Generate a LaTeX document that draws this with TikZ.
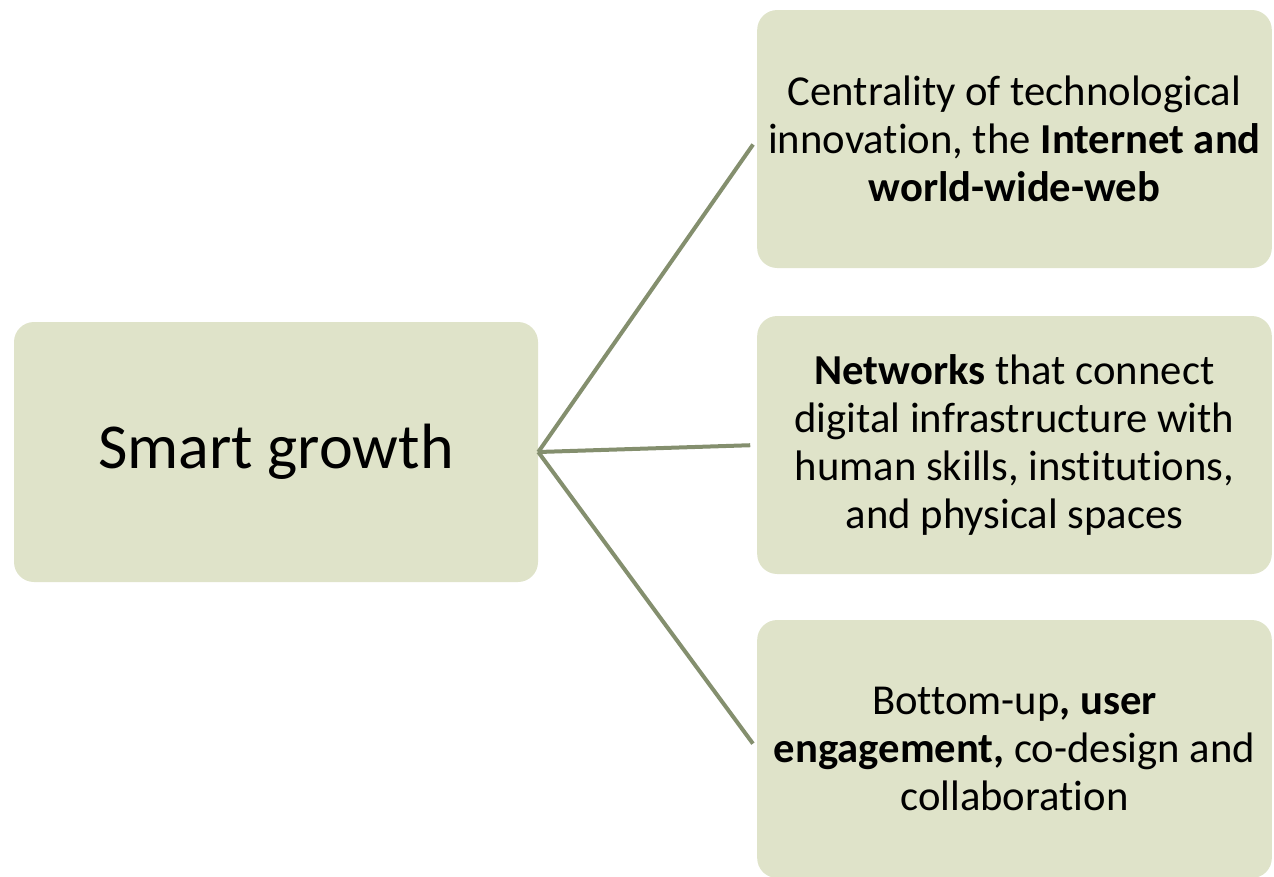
\documentclass[tikz,border=0pt]{standalone}
\usepackage{fontspec}
\setmainfont{Carlito}[RawFeature={-liga;-clig;-dlig}]
\usetikzlibrary{positioning}
\definecolor{BoxGreen}{RGB}{223,227,201}
\definecolor{LinkGreen}{RGB}{132,143,110}

\begin{document}
\begin{tikzpicture}[x=0.75pt, y=-0.75pt,
    mainbox/.style={fill=BoxGreen, rounded corners=15pt, minimum width=393pt,
        minimum height=195pt, font=\fontsize{48}{57}\selectfont},
    itembox/.style={fill=BoxGreen, rounded corners=15pt, minimum width=386pt,
        minimum height=193.5pt, align=center, font=\fontsize{32}{36}\selectfont},
    link/.style={draw=LinkGreen, line width=3pt, shorten >=5pt}]
    \useasboundingbox (0,0) rectangle (1274,876);
    % left box
    \node[mainbox] (smart) at (276,452) {Smart growth};
    % three boxes on the right
    \node[itembox] (tech) at (1014.5,139)
        {Centrality of technological\\innovation, the \textbf{Internet and}\\\textbf{world-wide-web}};
    \node[itembox] (netw) at (1014.5,445)
        {\textbf{Networks} that connect\\digital infrastructure with\\human skills, institutions,\\and physical spaces};
    \node[itembox] (engage) at (1014.5,749)
        {Bottom-up\textbf{, user}\\\textbf{engagement,} co-design and\\collaboration};
    % connectors
    \foreach \target in {tech, netw, engage}
        \draw[link] (smart.east) -- (\target.west);
\end{tikzpicture}
\end{document}
